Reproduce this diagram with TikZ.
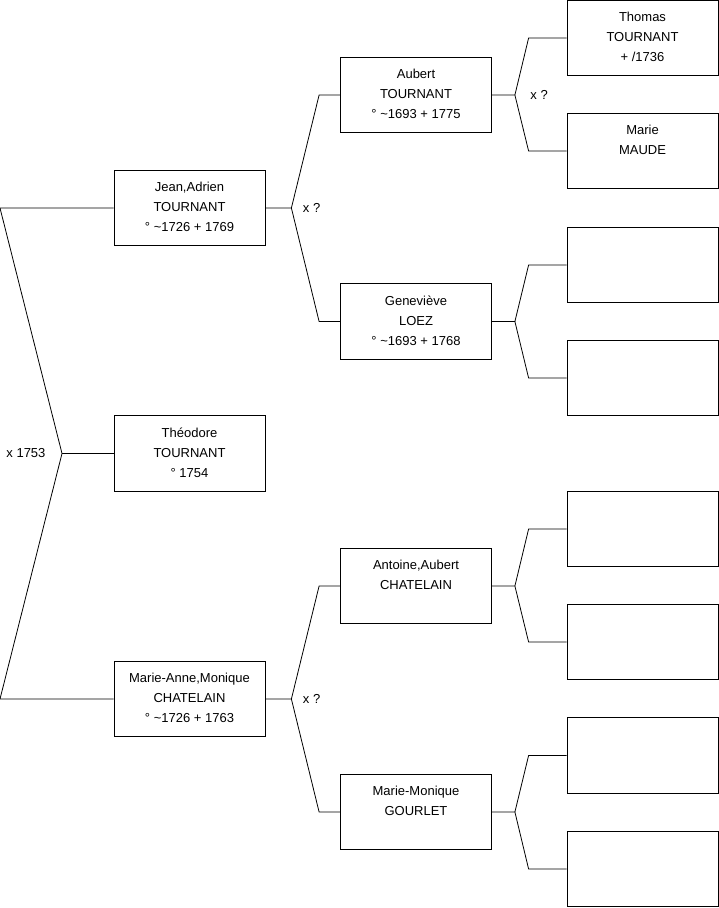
\documentclass[tikz,border=0pt]{standalone}
\usepackage{fontspec}
\setmainfont{Liberation Sans}
\usetikzlibrary{positioning}

\newcommand{\who}[1]{\parbox[c][57pt][t]{148pt}{\centering\fontsize{13}{20}\selectfont\rule{0pt}{12pt}#1}}

\tikzset{
  box/.style={draw, line width=0.8pt, minimum width=151pt, minimum height=75.5pt, inner sep=0pt},
  wire/.style={line width=0.8pt},
}

\begin{document}
\begin{tikzpicture}[x=1pt, y=-1pt, font=\fontsize{13}{20}\selectfont]
\useasboundingbox (0,0) rectangle (719,908);

% first generation
\node[box] (jean) at (189.5,208) {\who{Jean,Adrien\\TOURNANT\\° \textasciitilde1726 + 1769}};
\node[box] (theo) at (189.5,453.5) {\who{Théodore\\TOURNANT\\° 1754}};
\node[box] (marieanne) at (189.5,699) {\who{Marie-Anne,Monique\\CHATELAIN\\° \textasciitilde1726 + 1763}};

% parents
\node[box] (aubert) at (416,95) {\who{Aubert\\TOURNANT\\° \textasciitilde1693 + 1775}};
\node[box] (genevieve) at (416,321.5) {\who{Geneviève\\LOEZ\\° \textasciitilde1693 + 1768}};
\node[box] (antoine) at (416,586) {\who{Antoine,Aubert\\CHATELAIN}};
\node[box] (mmonique) at (416,812) {\who{Marie-Monique\\GOURLET}};

% grandparents
\node[box] (thomas) at (642.5,38) {\who{Thomas\\TOURNANT\\+ /1736}};
\node[box] (maude) at (642.5,151) {\who{Marie\\MAUDE}};
\foreach \n/\y in {g1/265, g2/378, g3/529, g4/642, g5/755.5, g6/869}
  \node[box] (\n) at (642.5,\y) {};

% couple on the left
\coordinate (top) at (0,208);
\coordinate (bot) at (0,699);
\coordinate (mid) at (62,453.5);
\draw[wire] (jean.west) -- (top) -- (mid) -- (bot) -- (marieanne.west);
\draw[wire] (mid) -- (theo.west);
\node[left=13pt of mid] (wed0) {x 1753};

% forks
\foreach \p/\a/\b in {jean/aubert/genevieve, marieanne/antoine/mmonique} {
  \draw[wire] (\p.east) -- ++(26,0) coordinate (f\p) -- ([xshift=-21pt]\a.west) -- (\a.west);
  \draw[wire] (f\p) -- ([xshift=-21pt]\b.west) -- (\b.west);
}
\foreach \p/\a/\b in {aubert/thomas/maude, genevieve/g1/g2, antoine/g3/g4, mmonique/g5/g6} {
  \draw[wire] (\p.east) -- ++(23,0) coordinate (f\p) -- ([xshift=-38pt]\a.west) -- (\a.west);
  \draw[wire] (f\p) -- ([xshift=-38pt]\b.west) -- (\b.west);
}
\node[right=8pt of fjean] (wedj) {x ?};
\node[right=8pt of fmarieanne] (wedm) {x ?};
\node[right=12pt of faubert] (weda) {x ?};
\end{tikzpicture}
\end{document}
